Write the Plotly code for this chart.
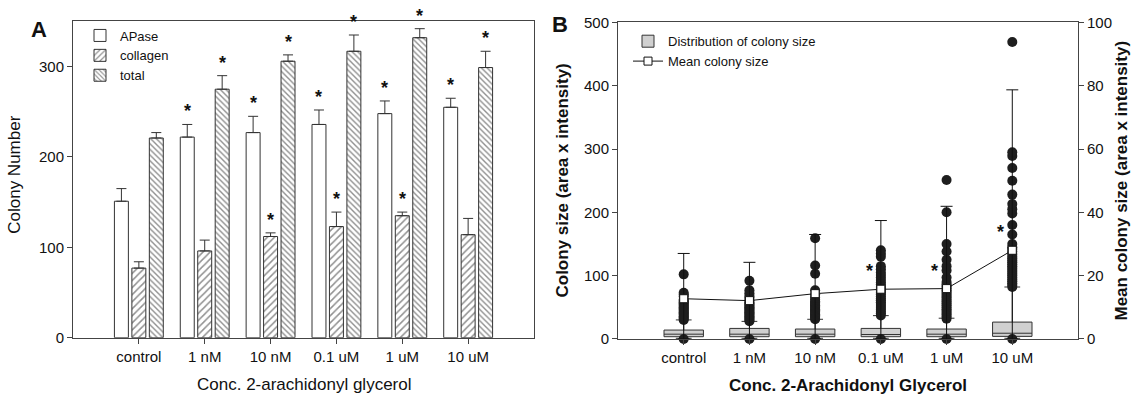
import plotly.graph_objects as go

# ---------------- data ----------------
cats = ["control", "1 nM", "10 nM", "0.1 uM", "1 uM", "10 uM"]

# Panel A: colony numbers (mean, +SEM)
apase = [151, 222, 227, 236, 248, 255]
apase_err = [14, 14, 18, 16, 14, 10]
collagen = [77, 96, 112, 123, 135, 114]
collagen_err = [7, 12, 4, 16, 4, 18]
total = [221, 275, 306, 317, 332, 299]
total_err = [6, 15, 7, 18, 10, 18]
sig_apase = [False, True, True, True, True, True]
sig_collagen = [False, False, True, True, True, False]
sig_total = [False, True, True, True, True, True]

# Panel B: distribution of colony size (left axis units)
box_q1 = [3.5, 3.5, 3.5, 3.5, 3.5, 4.0]
box_median = [7.5, 7.5, 7.5, 7.0, 7.5, 9.0]
box_q3 = [14.0, 16.6, 15.6, 16.6, 15.6, 26.6]
box_low = [1.0, 1.0, 1.0, 1.0, 1.0, 1.0]
box_high = [30, 27.7, 31, 36.8, 32.7, 82]

out_control = [0, 30, 32, 34, 36, 38, 40, 42, 44, 46, 48, 50, 52, 54, 56, 58, 60, 62, 67, 70, 73, 102]
out_1nM = [0, 28, 30, 32, 34, 36, 38, 40, 42, 44, 46, 48, 50, 52, 54, 56, 58, 61, 65, 68, 72, 77, 92]
out_10nM = [0, 31, 33, 35, 37, 39, 41, 43, 45, 47, 49, 51, 53, 55, 57, 59, 62, 65, 70, 77, 103, 116, 159]
out_01uM = [0, 37, 40, 43, 46, 49, 52, 55, 58, 61, 64, 67, 70, 73, 76, 79, 82, 86, 89, 93, 97, 101,
            105, 110, 115, 130, 135, 140]
out_1uM = [0, 32, 35, 38, 41, 44, 47, 50, 53, 56, 59, 62, 65, 68, 71, 74, 77, 80, 83, 86, 90, 97,
           108, 115, 125, 138, 150, 200, 251]
out_10uM = [0, 82, 85, 88, 91, 94, 97, 100, 103, 106, 109, 112, 115, 118, 121, 124, 127, 130, 134,
            138, 142, 145, 150, 165, 180, 198, 205, 213, 228, 250, 270, 289, 295, 469]
outliers = [out_control, out_1nM, out_10nM, out_01uM, out_1uM, out_10uM]

# Mean colony size (right axis units) and SD
mean_size = [12.7, 12.1, 14.3, 15.7, 15.9, 28.0]
mean_sd = [14.3, 12.1, 18.7, 21.7, 26.0, 50.7]
sig_mean = [False, False, False, True, True, True]

FONT = "Liberation Sans, Arial, Helvetica, sans-serif"
AX = "#444444"
W, H = 1135, 407

fig = go.Figure()

# ---------------- Panel A ----------------
series = [
    ("APase", apase, apase_err, dict(color="white")),
    ("collagen", collagen, collagen_err,
     dict(color="white", pattern=dict(shape="/", fgcolor="#222", bgcolor="white", size=5, solidity=0.3))),
    ("total", total, total_err,
     dict(color="white", pattern=dict(shape="\\", fgcolor="#222", bgcolor="white", size=4, solidity=0.35))),
]
for name, vals, errs, mk in series:
    mk = dict(mk)
    mk["line"] = dict(color="#333", width=1)
    fig.add_trace(go.Bar(
        x=cats, y=vals, name=name, marker=mk,
        error_y=dict(type="data", symmetric=False, array=errs, arrayminus=[0] * len(errs),
                     color="#333", thickness=1, width=5),
        xaxis="x", yaxis="y", legend="legend",
    ))

# ---------------- Panel B ----------------
fig.add_trace(go.Box(
    x=cats, q1=box_q1, median=box_median, q3=box_q3,
    lowerfence=box_low, upperfence=box_high,
    name="Distribution of colony size", boxpoints=False,
    fillcolor="#d0d0d0", line=dict(color="#333", width=1),
    width=0.6, whiskerwidth=0.4,
    xaxis="x2", yaxis="y2", legend="legend2",
))

ox, oy = [], []
for c, vals in zip(cats, outliers):
    ox += [c] * len(vals)
    oy += vals
fig.add_trace(go.Scatter(
    x=ox, y=oy, mode="markers", showlegend=False, cliponaxis=False,
    marker=dict(color="#1e1e1e", size=10),
    xaxis="x2", yaxis="y2",
))

fig.add_trace(go.Scatter(
    x=cats, y=mean_size, mode="lines+markers", name="Mean colony size",
    line=dict(color="#111", width=1),
    marker=dict(symbol="square", size=8, color="white", line=dict(color="#111", width=1)),
    error_y=dict(type="data", symmetric=False, array=mean_sd, arrayminus=mean_size,
                 color="#111", thickness=1, width=6),
    xaxis="x2", yaxis="y3", legend="legend2",
))

# ---------------- annotations ----------------
ann = []
slot = (1 - 0.205) / 3
for k, (vals, errs, sig) in enumerate([(apase, apase_err, sig_apase),
                                        (collagen, collagen_err, sig_collagen),
                                        (total, total_err, sig_total)]):
    for i, (v, e, s) in enumerate(zip(vals, errs, sig)):
        if s:
            ann.append(dict(x=i + (k - 1) * slot, y=v + e, xref="x", yref="y", text="<b>*</b>",
                            showarrow=False, yanchor="bottom", yshift=1,
                            font=dict(size=18, color="#111", family=FONT)))
for i, (m, s) in enumerate(zip(mean_size, sig_mean)):
    if s:
        ann.append(dict(x=i - 0.18, y=m, xref="x2", yref="y3", text="<b>*</b>",
                        showarrow=False, yanchor="bottom", yshift=6,
                        font=dict(size=18, color="#111", family=FONT)))

def pa(text, x, y, size, angle=0, bold=False):
    return dict(text=("<b>%s</b>" % text) if bold else text, x=x / W, y=1 - y / H,
                xref="paper", yref="paper", showarrow=False, textangle=angle,
                xanchor="center", yanchor="middle",
                font=dict(size=size, color="#111", family=FONT))

ann += [
    pa("A", 39, 21.5, 22, bold=True),
    pa("B", 560, 16, 22, bold=True),
    pa("Colony Number", 15, 173, 17, angle=-90),
    pa("Conc. 2-arachidonyl glycerol", 304, 392, 17),
    pa("Colony size (area x intensity)", 563, 179, 17, angle=-90, bold=True),
    pa("Mean colony size (area x intensity)", 1122, 179, 17, angle=-90, bold=True),
    pa("Conc. 2-Arachidonyl Glycerol", 848, 393, 17, bold=True),
]

axcommon = dict(showline=True, linecolor=AX, linewidth=1, ticks="outside", ticklen=5,
                tickcolor=AX, showgrid=False, zeroline=False,
                tickfont=dict(size=15, color="#111", family=FONT))

xa = [73 / W, 534 / W]
xb = [618 / W, 1078 / W]
ya = [1 - 343 / H, 1 - 13 / H]
yb = [1 - 344.3 / H, 1 - 14 / H]

fig.update_layout(
    width=W, height=H, margin=dict(l=0, r=0, t=0, b=0),
    paper_bgcolor="white", plot_bgcolor="white",
    font=dict(family=FONT, color="#111"),
    barmode="group", bargap=0.205, bargroupgap=0.2,
    xaxis=dict(axcommon, domain=xa, range=[-1, 6], type="category",
               categoryorder="array", categoryarray=cats, mirror=True, anchor="y"),
    yaxis=dict(axcommon, domain=ya, range=[0, 350], tickvals=[0, 100, 200, 300],
               mirror=True, anchor="x"),
    xaxis2=dict(axcommon, domain=xb, range=[-1, 6], type="category",
                categoryorder="array", categoryarray=cats, mirror=True, anchor="y2"),
    yaxis2=dict(axcommon, domain=yb, range=[0, 500], tickvals=[0, 100, 200, 300, 400, 500],
                anchor="x2"),
    yaxis3=dict(axcommon, range=[0, 100], tickvals=[0, 20, 40, 60, 80, 100],
                overlaying="y2", side="right", anchor="x2"),
    legend=dict(x=80 / W, y=1 - 12 / H, xanchor="left", yanchor="top",
                bgcolor="rgba(0,0,0,0)", font=dict(size=13, family=FONT, color="#111")),
    legend2=dict(x=628 / W, y=1 - 18 / H, xanchor="left", yanchor="top",
                 bgcolor="rgba(0,0,0,0)", font=dict(size=13, family=FONT, color="#111")),
    annotations=ann,
)

fig.write_html("out.html")
